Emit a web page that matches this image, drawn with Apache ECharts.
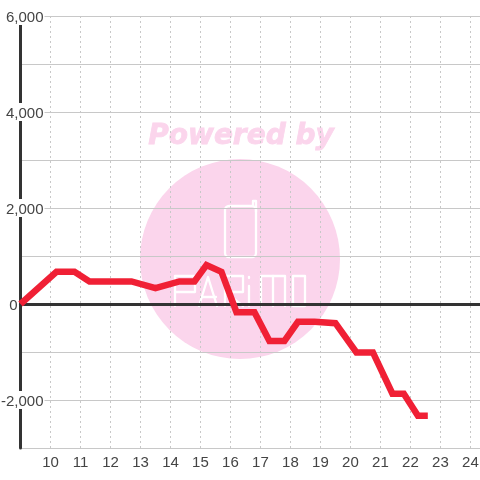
<!DOCTYPE html>
<html><head><meta charset="utf-8">
<style>html,body{margin:0;padding:0;background:#fff}#c{width:480px;height:480px}</style>
<script src="https://cdn.jsdelivr.net/npm/echarts@6/dist/echarts.min.js"></script>
</head><body><div id="c"></div>
<script>
const xValues=[9,10.2,10.8,11.3,12.7,13.5,14.3,14.8,15.2,15.7,16.2,16.8,17.3,17.8,18.25,18.8,19.5,20.2,20.75,21.4,21.78,22.25,22.58];
const yValues=[0,670,670,470,470,330,470,470,810,670,-170,-170,-770,-770,-370,-370,-400,-1010,-1010,-1870,-1870,-2330,-2330];
const yLabelled=[6000,4000,2000,-2000];
const wmPink='#fbd5ec';
const logoLine=(pts)=>({type:'polyline',z:-1,silent:true,shape:{points:pts},style:{fill:null,stroke:'#fff',lineWidth:2.3,lineJoin:'round',lineCap:'round'}});
const chart=echarts.init(document.getElementById('c'),null,{renderer:'canvas'});
chart.setOption({
 animation:false,backgroundColor:'#fff',
 textStyle:{fontFamily:'"Liberation Sans",Arial,sans-serif'},
 grid:{left:20.5,right:0,top:16,bottom:32,containLabel:false,outerBoundsMode:'none'},
 graphic:[
  {type:'circle',z:-2,silent:true,shape:{cx:240,cy:259,r:100},style:{fill:wmPink}},
  {type:'text',z:-2,silent:true,x:241,y:137,style:{text:'Powered by',fill:wmPink,font:'italic bold 28px "DejaVu Sans"',align:'center',verticalAlign:'middle',stroke:wmPink,lineWidth:0.8}},
  {type:'rect',z:-1,silent:true,shape:{x:225,y:206,width:31,height:51,r:4},style:{fill:null,stroke:'#fff',lineWidth:2.3}},
  logoLine([[253,206],[253,201],[256,201],[256,212]]),
  logoLine([[175,306],[175,276],[195,276],[195,292],[175,292]]),
  logoLine([[199,306],[208,277],[217,306]]),
  logoLine([[201,297],[216,297]]),
  logoLine([[225,306],[225,276],[243,276],[243,292],[225,292],[243,306]]),
  logoLine([[249,306],[249,286]]),
  logoLine([[249,277],[249,278]]),
  logoLine([[261,306],[261,276],[273,276],[273,306]]),
  logoLine([[273,276],[285,276],[285,306]]),
  logoLine([[293,276],[305,276],[305,306],[293,306],[293,276]])
 ],
 xAxis:[
  {type:'value',min:9,max:24.32,interval:1,position:'bottom',
   axisLine:{show:false,onZero:false},axisTick:{show:false},
   axisLabel:{color:'#444',fontSize:15,margin:7,hideOverlap:false,
    formatter:v=>(Number.isInteger(v)&&v>9)?String(v):''},
   splitLine:{show:true,showMinLine:false,showMaxLine:false,lineStyle:{color:'#c8c8c8',type:[2,3],width:1}}},
  {type:'value',min:9,max:24.32,interval:1,position:'bottom',
   axisLine:{show:true,onZero:true,lineStyle:{color:'#333',width:3}},
   axisTick:{show:false},axisLabel:{show:false},splitLine:{show:false}}
 ],
 yAxis:{type:'value',min:-3000,max:6000,interval:1000,
  axisLine:{show:true,onZero:false,lineStyle:{color:'#333',width:3}},
  axisTick:{show:false},
  axisLabel:{color:'#444',fontSize:15,margin:-24,align:'right',
   rich:{a:{fontSize:15,color:'#444',backgroundColor:'#fff',padding:[3,1,0,1]},
         z:{fontSize:15,color:'#444',padding:[3,27,0,0]}},
   formatter:v=>v===0?'{z|0}':(yLabelled.includes(v)?'{a|'+v.toLocaleString('en-US')+'}':'')},
  splitLine:{show:true,lineStyle:{color:'#c8c8c8',width:1}}},
 series:[{type:'line',xAxisIndex:0,yAxisIndex:0,clip:false,z:5,symbol:'none',smooth:false,
  data:xValues.map((x,i)=>[x,yValues[i]]),
  lineStyle:{color:'#f02035',width:6.5,join:'miter',cap:'butt'}}]
});
</script></body></html>
